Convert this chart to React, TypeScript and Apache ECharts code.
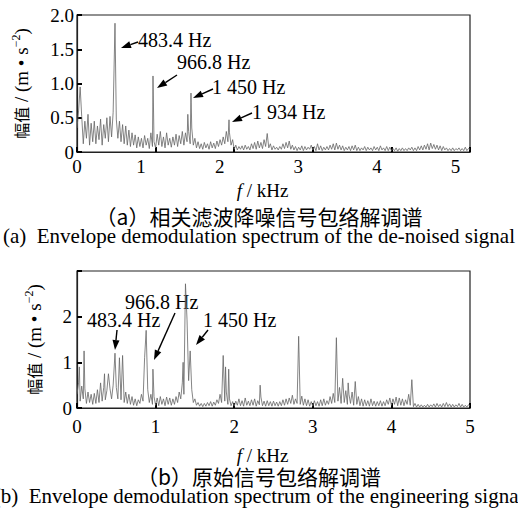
import React, { useEffect, useRef } from 'react';
import * as echarts from 'echarts';

// frequency step of the noise-floor arrays, kHz
const STEP_KHZ = 0.02;

// (a) de-noised signal: noise floor every 20 Hz from 0 to 5 kHz
const noiseA = [
  0.35, 0.6, 0.15, 0.52, 0.12, 0.45, 0.2, 0.55, 0.1, 0.42,
  0.15, 0.45, 0.12, 0.38, 0.18, 0.48, 0.1, 0.4, 0.2, 0.5,
  0.15, 0.52, 0.22, 0.58, 0.3, 0.48, 0.2, 0.45, 0.15, 0.4,
  0.12, 0.38, 0.1, 0.32, 0.08, 0.28, 0.1, 0.25, 0.06, 0.22,
  0.08, 0.2, 0.06, 0.24, 0.1, 0.2, 0.05, 0.28, 0.08, 0.15,
  0.06, 0.26, 0.1, 0.3, 0.08, 0.22, 0.06, 0.28, 0.1, 0.2,
  0.07, 0.22, 0.1, 0.26, 0.08, 0.24, 0.12, 0.3, 0.1, 0.28,
  0.15, 0.3, 0.12, 0.35, 0.1, 0.2, 0.06, 0.15, 0.05, 0.12,
  0.04, 0.14, 0.06, 0.12, 0.04, 0.15, 0.06, 0.13, 0.05, 0.16,
  0.08, 0.18, 0.1, 0.22, 0.12, 0.3, 0.15, 0.28, 0.1, 0.18,
  0.04, 0.1, 0.03, 0.08, 0.04, 0.09, 0.03, 0.1, 0.04, 0.08,
  0.03, 0.12, 0.05, 0.14, 0.04, 0.16, 0.06, 0.14, 0.05, 0.18,
  0.08, 0.2, 0.06, 0.12, 0.03, 0.09, 0.04, 0.07, 0.03, 0.08,
  0.04, 0.12, 0.05, 0.14, 0.06, 0.16, 0.04, 0.1, 0.03, 0.08,
  0.02, 0.07, 0.03, 0.09, 0.02, 0.08, 0.03, 0.07, 0.04, 0.1,
  0.03, 0.08, 0.02, 0.12, 0.03, 0.09, 0.02, 0.07, 0.03, 0.08,
  0.03, 0.1, 0.04, 0.12, 0.03, 0.13, 0.04, 0.1, 0.03, 0.09,
  0.02, 0.07, 0.03, 0.08, 0.02, 0.09, 0.03, 0.1, 0.02, 0.07,
  0.02, 0.06, 0.03, 0.08, 0.02, 0.07, 0.03, 0.06, 0.02, 0.08,
  0.03, 0.07, 0.02, 0.09, 0.03, 0.06, 0.02, 0.08, 0.02, 0.07,
  0.02, 0.05, 0.02, 0.06, 0.01, 0.05, 0.02, 0.06, 0.02, 0.05,
  0.02, 0.06, 0.03, 0.07, 0.02, 0.06, 0.02, 0.08, 0.03, 0.09,
  0.03, 0.1, 0.04, 0.12, 0.03, 0.13, 0.05, 0.11, 0.04, 0.1,
  0.03, 0.09, 0.02, 0.08, 0.03, 0.06, 0.02, 0.05, 0.02, 0.06,
  0.02, 0.05, 0.03, 0.06, 0.02, 0.05, 0.02, 0.07, 0.02, 0.05, 0.04,
];
const peakFreqA = [0.04, 0.4834, 0.9668, 1.41, 1.45, 1.934, 2.42];
const peakAmpA = [0.95, 1.88, 1.11, 0.55, 0.86, 0.47, 0.27];

// (b) original signal
const noiseB = [
  0.3, 0.55, 0.15, 0.48, 0.2, 0.42, 0.1, 0.35, 0.12, 0.3,
  0.08, 0.32, 0.1, 0.4, 0.12, 0.36, 0.15, 0.45, 0.18, 0.38,
  0.12, 0.42, 0.2, 0.5, 0.15, 0.45, 0.2, 0.55, 0.18, 0.48,
  0.12, 0.35, 0.1, 0.3, 0.08, 0.25, 0.06, 0.2, 0.05, 0.18,
  0.1, 0.3, 0.15, 0.5, 0.2, 0.4, 0.12, 0.3, 0.08, 0.25,
  0.06, 0.22, 0.05, 0.25, 0.08, 0.2, 0.05, 0.24, 0.08, 0.22,
  0.06, 0.2, 0.08, 0.25, 0.12, 0.35, 0.2, 0.55, 0.3, 0.7,
  0.35, 0.6, 0.25, 0.4, 0.12, 0.2, 0.06, 0.12, 0.04, 0.1,
  0.03, 0.1, 0.04, 0.12, 0.05, 0.14, 0.04, 0.13, 0.06, 0.18,
  0.1, 0.3, 0.12, 0.4, 0.15, 0.35, 0.08, 0.2, 0.05, 0.14,
  0.04, 0.15, 0.06, 0.2, 0.05, 0.16, 0.04, 0.22, 0.06, 0.15,
  0.05, 0.18, 0.06, 0.2, 0.04, 0.16, 0.07, 0.24, 0.05, 0.15,
  0.04, 0.16, 0.05, 0.14, 0.04, 0.15, 0.05, 0.13, 0.04, 0.14,
  0.05, 0.18, 0.06, 0.2, 0.08, 0.22, 0.1, 0.28, 0.08, 0.2,
  0.1, 0.32, 0.08, 0.26, 0.06, 0.2, 0.05, 0.18, 0.04, 0.14,
  0.04, 0.16, 0.05, 0.14, 0.04, 0.18, 0.05, 0.2, 0.06, 0.16,
  0.08, 0.25, 0.1, 0.32, 0.12, 0.4, 0.15, 0.45, 0.1, 0.35,
  0.12, 0.38, 0.08, 0.3, 0.1, 0.35, 0.06, 0.3, 0.08, 0.25,
  0.05, 0.2, 0.04, 0.18, 0.05, 0.16, 0.04, 0.2, 0.05, 0.15,
  0.04, 0.14, 0.05, 0.16, 0.04, 0.14, 0.05, 0.18, 0.08, 0.22,
  0.06, 0.2, 0.08, 0.24, 0.05, 0.22, 0.06, 0.2, 0.05, 0.18,
  0.08, 0.3, 0.06, 0.18, 0.03, 0.1, 0.02, 0.08, 0.02, 0.07,
  0.02, 0.06, 0.02, 0.08, 0.02, 0.07, 0.03, 0.09, 0.02, 0.1,
  0.03, 0.08, 0.02, 0.1, 0.03, 0.12, 0.03, 0.09, 0.02, 0.08,
  0.02, 0.07, 0.03, 0.1, 0.02, 0.08, 0.02, 0.06, 0.02, 0.07, 0.04,
];
const peakFreqB = [0.03, 0.09, 0.3, 0.35, 0.4, 0.4834, 0.54, 0.58, 0.86, 0.88, 0.966,
  1.35, 1.38, 1.40, 1.44, 1.86, 1.89, 1.93, 2.33, 2.82, 3.30, 3.38, 3.45, 3.54, 4.26];
const peakAmpB = [0.9, 1.25, 0.55, 0.75, 0.75, 1.2, 1.1, 1.15, 1.1, 1.7, 0.85,
  1.0, 2.72, 1.93, 1.25, 1.15, 0.9, 0.85, 0.5, 1.57, 1.54, 0.65, 0.55, 0.58, 0.62];

const xTicks = [0, 1, 2, 3, 4, 5];
const yTicksA = [0, 0.5, 1.0, 1.5, 2.0];
const yTicksB = [0, 1, 2];
const annTextA = ['483.4 Hz', '966.8 Hz', '1 450 Hz', '1 934 Hz'];
const annTextB = ['483.4 Hz', '966.8 Hz', '1 450 Hz'];
const captionA = ['（a）相关滤波降噪信号包络解调谱', '(a)  Envelope demodulation spectrum of the de-noised signal'];
const captionB = ['（b）原始信号包络解调谱', '(b)  Envelope demodulation spectrum of the engineering signal'];

function buildSeries(noise: number[], pf: number[], pa: number[]) {
  const pts: number[][] = [];
  noise.forEach((v, i) => {
    const f = i * STEP_KHZ;
    if (!pf.some((p) => Math.abs(p - f) < 0.006)) pts.push([f, v]);
  });
  pf.forEach((f, k) => pts.push([f, pa[k]]));
  pts.sort((a, b) => a[0] - b[0]);
  return pts;
}

const SERIF = 'Liberation Serif';
const CJK = 'Noto Sans CJK SC';

function arrow(x1: number, y1: number, x2: number, y2: number) {
  const dx = x2 - x1, dy = y2 - y1;
  const len = Math.sqrt(dx * dx + dy * dy);
  const ux = dx / len, uy = dy / len;
  const hl = 10, hw = 3.5;
  const bx = x2 - ux * hl, by = y2 - uy * hl;
  return [
    { type: 'line', shape: { x1, y1, x2: bx, y2: by }, style: { stroke: '#000', lineWidth: 1.4 }, silent: true },
    {
      type: 'polygon',
      shape: { points: [[x2, y2], [bx - uy * hw, by + ux * hw], [bx + uy * hw, by - ux * hw]] },
      style: { fill: '#000' }, silent: true,
    },
  ];
}

function annText(text: string, x: number, y: number) {
  return {
    type: 'text', x, y, silent: true,
    style: { text, fontFamily: SERIF, fontSize: 20, fill: '#000', align: 'left', verticalAlign: 'middle' },
  };
}

function caption(text: string, y: number, cjk: boolean) {
  return {
    type: 'text', x: 259, y, silent: true,
    style: {
      text, fontFamily: cjk ? CJK : SERIF, fontSize: cjk ? 21 : 21, lineHeight: 18, fill: '#000',
      align: 'center', verticalAlign: 'middle',
    },
  };
}

export default function App() {
  const ref = useRef<HTMLDivElement>(null);
  useEffect(() => {
    if (!ref.current) return;
    const chart = echarts.init(ref.current, undefined, { renderer: 'svg' });
    const axisLine = { show: true, lineStyle: { color: '#222', width: 1.2 } };
    const tick = { show: true, inside: true, length: 5, lineStyle: { color: '#000', width: 2 } };
    const yName = {
      name: '{c|幅值} / (m • s{sup|−2})',
      nameLocation: 'middle',
      nameRotate: 90,
      nameTextStyle: {
        fontFamily: SERIF, fontSize: 19, color: '#000',
        rich: {
          c: { fontFamily: CJK, fontSize: 16, color: '#000' },
          sup: { fontFamily: SERIF, fontSize: 12, color: '#000', padding: [0, 0, 10, 0] },
        },
      },
    };
    const xName = {
      name: '{i|f} / kHz',
      nameLocation: 'middle',
      nameTextStyle: {
        fontFamily: SERIF, fontSize: 19, color: '#000', padding: [0, 22, 0, 0], lineHeight: 17,
        rich: { i: { fontFamily: SERIF, fontStyle: 'italic', fontSize: 19, color: '#000', lineHeight: 17 } },
      },
    };
    const labelStyle = { fontFamily: SERIF, fontSize: 19, color: '#000' };

    const option: any = {
      animation: false,
      backgroundColor: '#fff',
      grid: [
        { left: 77, top: 15, width: 393, height: 137, show: true, borderColor: '#222', borderWidth: 1.2 },
        { left: 77, top: 271, width: 393, height: 137, show: true, borderColor: '#222', borderWidth: 1.2 },
      ],
      xAxis: [
        {
          gridIndex: 0, type: 'value', min: xTicks[0], max: xTicks[xTicks.length - 1], interval: 1,
          axisLine, axisTick: tick, splitLine: { show: false },
          axisLabel: {
            ...labelStyle, margin: 5,
            formatter: (v: number) => (v === 0 ? `{z|${v}}` : `{s|${v}}`),
            rich: { z: { ...labelStyle }, s: { ...labelStyle, padding: [0, 29, 0, 0] } },
          },
          ...xName, nameGap: 30,
        },
        {
          gridIndex: 1, type: 'value', min: xTicks[0], max: xTicks[xTicks.length - 1], interval: 1,
          axisLine, axisTick: tick, splitLine: { show: false },
          axisLabel: { ...labelStyle, margin: 9 },
          ...xName, nameGap: 39,
        },
      ],
      yAxis: [
        {
          gridIndex: 0, type: 'value', min: yTicksA[0], max: yTicksA[yTicksA.length - 1], interval: 0.5,
          axisLine, axisTick: tick, splitLine: { show: false },
          axisLabel: { ...labelStyle, margin: 3, formatter: (v: number) => (v === 0 ? '0' : v.toFixed(1)) },
          ...yName, nameGap: 45,
        },
        {
          gridIndex: 1, type: 'value', min: yTicksB[0], max: 3, interval: 1,
          axisLine, axisTick: tick, splitLine: { show: false },
          axisLabel: {
            ...labelStyle, margin: 5,
            formatter: (v: number) => (yTicksB.indexOf(v) >= 0 ? String(v) : ''),
          },
          ...yName, nameGap: 32,
        },
      ],
      series: [
        {
          type: 'line', xAxisIndex: 0, yAxisIndex: 0, data: buildSeries(noiseA, peakFreqA, peakAmpA),
          showSymbol: false, symbol: 'none', lineStyle: { color: '#666', width: 0.8 }, silent: true,
        },
        {
          type: 'line', xAxisIndex: 1, yAxisIndex: 1, data: buildSeries(noiseB, peakFreqB, peakAmpB),
          showSymbol: false, symbol: 'none', lineStyle: { color: '#666', width: 0.8 }, silent: true,
        },
      ],
      graphic: [
        annText(annTextA[0], 138, 40), ...arrow(138, 42, 121, 48),
        annText(annTextA[1], 177, 62), ...arrow(177, 75, 157, 88),
        annText(annTextA[2], 212, 87), ...arrow(213, 89, 193, 98),
        annText(annTextA[3], 252, 112), ...arrow(252, 113, 232, 122),
        annText(annTextB[0], 87, 320), ...arrow(117, 330, 115, 350),
        annText(annTextB[1], 125, 302), ...arrow(175, 313, 154, 360),
        annText(annTextB[2], 203, 320), ...arrow(208, 330, 196, 345),
        caption(captionA[0], 216, true),
        caption(captionA[1], 236, false),
        caption(captionB[0], 476, true),
        caption(captionB[1], 496, false),
      ],
    };
    chart.setOption(option);
    return () => chart.dispose();
  }, []);
  return (
    <div
      ref={ref}
      style={{ position: 'fixed', left: 0, top: 0, width: 518, height: 520, background: '#fff' }}
    />
  );
}
